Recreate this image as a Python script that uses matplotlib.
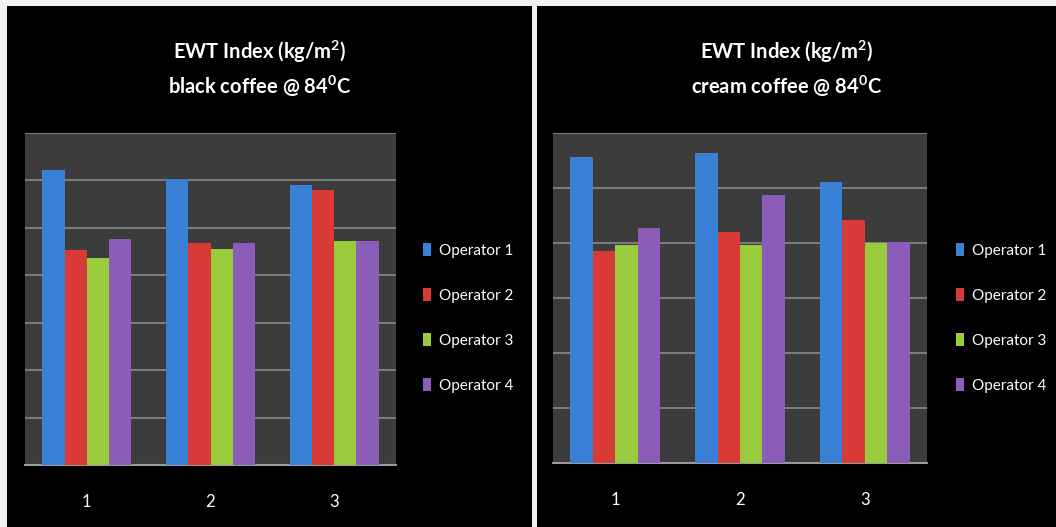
import matplotlib
matplotlib.use("Agg")
import matplotlib.pyplot as plt
from matplotlib.patches import Rectangle
import numpy as np

# ---- data (in grid units; the reference shows no y tick labels) ----
categories = ["1", "2", "3"]
operators = ["Operator 1", "Operator 2", "Operator 3", "Operator 4"]
black_coffee = {
    "Operator 1": [6.21, 6.02, 5.91],
    "Operator 2": [4.53, 4.68, 5.79],
    "Operator 3": [4.36, 4.55, 4.72],
    "Operator 4": [4.77, 4.68, 4.72],
}
cream_coffee = {
    "Operator 1": [5.56, 5.64, 5.11],
    "Operator 2": [3.85, 4.20, 4.42],
    "Operator 3": [3.96, 3.96, 4.00],
    "Operator 4": [4.27, 4.87, 4.02],
}
black_ymax, black_step = 7, 1
cream_ymax, cream_step = 6, 1
title_line1 = "EWT Index (kg/m$^\\mathbf{2}$)"
title_line2 = ["black coffee @ 84$^\\mathbf{0}$C", "cream coffee @ 84$^\\mathbf{0}$C"]

colors = ["#3a80d6", "#d83b37", "#9acb3c", "#8b5cb8"]

plt.rcParams["font.family"] = ["Lato", "DejaVu Sans"]
plt.rcParams["mathtext.fontset"] = "custom"
plt.rcParams["mathtext.rm"] = "Lato"
plt.rcParams["mathtext.bf"] = "Lato:bold"

W, H = 1056, 527
fig = plt.figure(figsize=(W / 100, H / 100), dpi=100, facecolor="black")

def fx(px):
    return px / W

def fy(py):
    return 1 - py / H

# white sheet borders
fig.patches.append(Rectangle((0, fy(6)), 1, 6 / H, transform=fig.transFigure,
                             facecolor="#f2f2f2", edgecolor="none", zorder=0))
fig.patches.append(Rectangle((0, 0), fx(7), 1, transform=fig.transFigure,
                             facecolor="#f2f2f2", edgecolor="none", zorder=0))
fig.patches.append(Rectangle((fx(532), 0), fx(5), 1, transform=fig.transFigure,
                             facecolor="#f2f2f2", edgecolor="none", zorder=0))

panels = [
    (black_coffee, black_ymax, black_step, (25, 396, 133, 465), 260, 409),
    (cream_coffee, cream_ymax, cream_step, (553, 927, 133, 463), 787, 942),
]

x = np.arange(len(categories))
bw = 0.18
for (data, ymax, step, (l, r, t, b), tcx, legx), line2 in zip(panels, title_line2):
    ax = fig.add_axes([fx(l), fy(b), fx(r - l), (b - t) / H])
    ax.set_facecolor("#3c3c3c")
    for i, op in enumerate(operators):
        ax.bar(x + (i - 1.5) * bw, data[op], width=bw, color=colors[i],
               edgecolor="none", zorder=3, label=op)
    ax.set_xlim(-0.5, len(categories) - 0.5)
    ax.set_ylim(0, ymax)
    ax.set_yticks(np.arange(0, ymax + 0.01, step))
    ax.yaxis.grid(True, color="#8a8a8a", linewidth=1.2, zorder=1)
    ax.set_axisbelow(True)
    ax.tick_params(axis="y", left=False, labelleft=False)
    ax.set_xticks(x)
    ax.set_xticklabels(categories, color="white", fontsize=12)
    ax.tick_params(axis="x", length=0, pad=21)
    for s in ["left", "right", "top"]:
        ax.spines[s].set_visible(False)
    ax.spines["bottom"].set_color("#9a9a9a")
    ax.spines["bottom"].set_linewidth(1.5)

    fig.text(fx(tcx), fy(52), title_line1, color="white",
             fontsize=14.5, fontweight="bold", ha="center", va="center")
    fig.text(fx(tcx), fy(86), line2, color="white",
             fontsize=14.5, fontweight="bold", ha="center", va="center")

    ax.legend(loc="center left", bbox_to_anchor=(fx(legx), fy(318)),
              bbox_transform=fig.transFigure, frameon=False,
              labelcolor="white", fontsize=11, handlelength=0.55,
              handleheight=0.9, handletextpad=0.5, labelspacing=2.0)

fig.savefig("out.png", dpi=100, facecolor="black")
